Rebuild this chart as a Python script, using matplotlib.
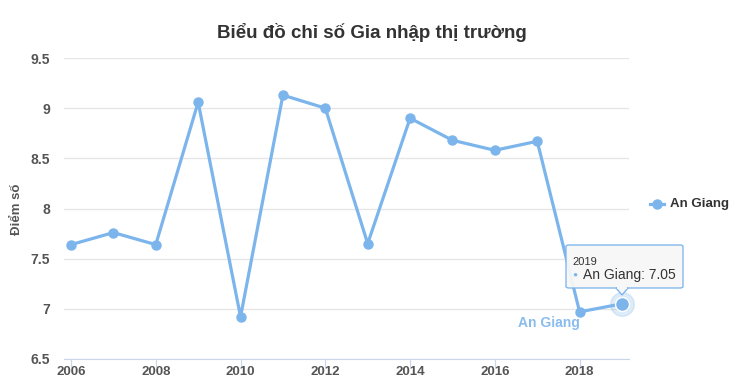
import matplotlib
matplotlib.use("Agg")
import matplotlib.pyplot as plt
from matplotlib.patches import FancyBboxPatch, Polygon

plt.rcParams['font.family'] = ['Liberation Sans', 'DejaVu Sans']

# Dữ liệu
years = [2006, 2007, 2008, 2009, 2010, 2011, 2012, 2013, 2014, 2015, 2016, 2017, 2018, 2019]
scores = [7.64, 7.76, 7.64, 9.06, 6.92, 9.13, 9.00, 7.65, 8.90, 8.68, 8.58, 8.67, 6.97, 7.05]
series_name = "An Giang"
title = "Biểu đồ chỉ số Gia nhập thị trường"
y_label = "Điểm số"
x_ticks = [2006, 2008, 2010, 2012, 2014, 2016, 2018]
y_ticks = [6.5, 7, 7.5, 8, 8.5, 9, 9.5]

line_color = "#7cb5ec"
W, H = 746, 381

fig = plt.figure(figsize=(W / 100, H / 100), dpi=100)
ax = fig.add_axes([64 / W, 1 - 359 / H, (629 - 64) / W, (359 - 58) / H])

ax.plot(years, scores, color=line_color, lw=2.3, marker="o", ms=6.5, zorder=3, clip_on=False)

# diem dang hover (2019)
ax.plot(years[-1], scores[-1], "o", ms=17, color=line_color, alpha=0.25, zorder=2, clip_on=False)
ax.plot(years[-1], scores[-1], "o", ms=10, color=line_color, zorder=4, clip_on=False,
        markeredgecolor="white", markeredgewidth=1)

pad = 7 / 42.4
ax.set_xlim(years[0] - pad, years[-1] + pad)
ax.set_ylim(6.5, 9.5)
ax.set_xticks(x_ticks)
ax.set_yticks(y_ticks)
ax.set_yticklabels([("%g" % v) for v in y_ticks])
ax.grid(axis="y", color="#e6e6e6", lw=1)
ax.set_axisbelow(True)
for s in ["top", "right", "left"]:
    ax.spines[s].set_visible(False)
ax.spines["bottom"].set_color("#ccd6eb")
ax.tick_params(axis="y", length=0, pad=10, labelsize=10, labelcolor="#555555")
ax.tick_params(axis="x", length=6, color="#ccd6eb", pad=-1, labelsize=9.5, labelcolor="#555555")
for lbl in ax.get_xticklabels() + ax.get_yticklabels():
    lbl.set_fontweight("bold")

fig.text(372 / W, 1 - 32 / H, title, ha="center", va="center", fontsize=13.5,
         fontweight="bold", color="#333333")
fig.text(17 / W, 1 - 209 / H, y_label, rotation=90, ha="center", va="center",
         fontsize=9.5, fontweight="bold", color="#555555")

# nhan ten chuoi
ax.text(2017.27, 6.86, series_name, ha="center", va="center", fontsize=10,
        fontweight="bold", color=line_color, alpha=0.9)

# legend
fig.lines.append(plt.Line2D([650 / W, 664 / W], [1 - 204 / H] * 2, transform=fig.transFigure,
                            color=line_color, lw=2.3))
fig.lines.append(plt.Line2D([657 / W], [1 - 204 / H], transform=fig.transFigure,
                            color=line_color, marker="o", ms=6.5))
fig.text(670 / W, 1 - 204 / H, series_name, ha="left", va="center", fontsize=9.5,
         fontweight="bold", color="#333333")

# tooltip
bx0, bx1, by0, by1 = 566, 683, 245, 288
box = FancyBboxPatch((bx0 / W, 1 - by1 / H), (bx1 - bx0) / W, (by1 - by0) / H,
                     boxstyle="round,pad=0,rounding_size=0.004", transform=fig.transFigure,
                     facecolor="#f7f7f7", edgecolor=line_color, lw=1, alpha=0.95, zorder=10)
fig.patches.append(box)
tri = Polygon([(616 / W, 1 - 288 / H), (628 / W, 1 - 288 / H), (622 / W, 1 - 295 / H)],
              closed=True, transform=fig.transFigure, facecolor="#f7f7f7",
              edgecolor=line_color, lw=1, zorder=10)
fig.patches.append(tri)
fig.patches.append(Polygon([(617 / W, 1 - 287.5 / H), (627 / W, 1 - 287.5 / H)],
                           closed=False, transform=fig.transFigure, edgecolor="#f7f7f7",
                           lw=1.5, zorder=11))
fig.text(572 / W, 1 - 262 / H, str(years[-1]), ha="left", va="center", fontsize=8,
         color="#333333", zorder=12)
fig.text(572 / W, 1 - 275 / H, "●", ha="left", va="center", fontsize=6,
         color=line_color, zorder=12)
fig.text(583 / W, 1 - 275 / H, "%s: %.2f" % (series_name, scores[-1]), ha="left",
         va="center", fontsize=10, color="#333333", zorder=12)

fig.savefig("out.png", dpi=100)
